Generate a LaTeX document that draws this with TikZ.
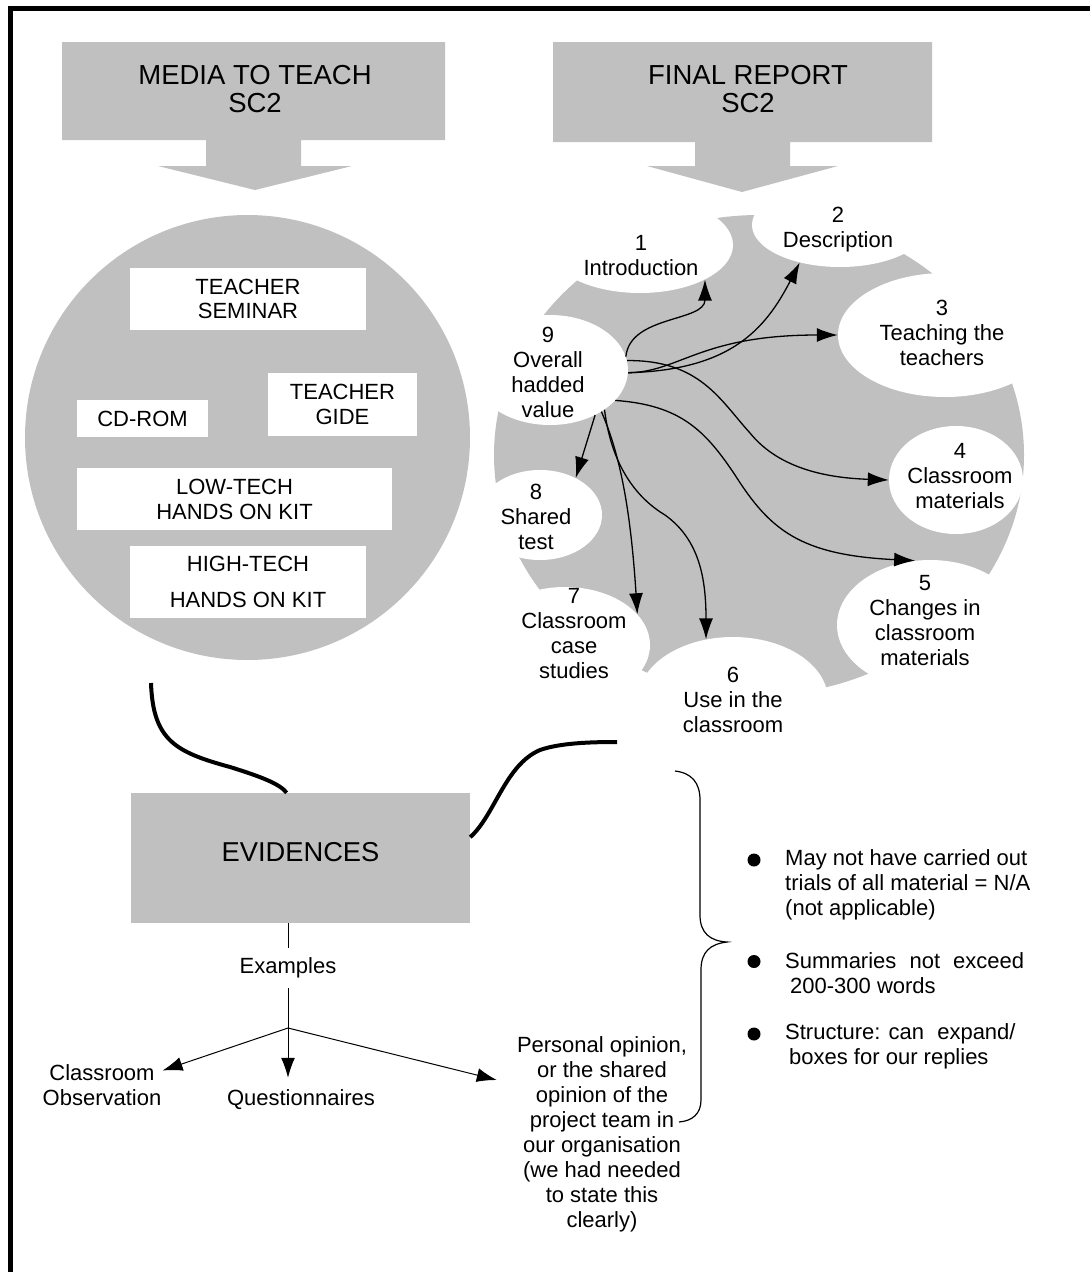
\documentclass[tikz,border=0pt]{standalone}
\usepackage{fontspec}
\setmainfont{Liberation Sans}
\usetikzlibrary{shapes.geometric,arrows.meta}
\definecolor{boxgray}{RGB}{192,192,192}
\begin{document}
\begin{tikzpicture}[x=1pt,y=-1pt,
  txt/.style={font=\fontsize{22}{25}\selectfont, align=center, inner sep=0pt},
  ttl/.style={font=\fontsize{27.5}{28}\selectfont, align=center, inner sep=0pt},
  wbox/.style={fill=white, inner sep=0pt, font=\fontsize{22}{25}\selectfont, align=center},
  bite/.style={ellipse, fill=white, inner sep=0pt},
  arr/.style={-{Latex[length=21pt,width=14pt]}, line width=1.3pt},
  arr2/.style={-{Latex[length=20pt,width=14pt]}, line width=1pt},
  heavy/.style={line width=4pt},
  bullet/.style={circle, fill=black, inner sep=0pt, minimum size=13pt}
]
\useasboundingbox (0,0) rectangle (1090,1272);
% frame
\fill (8,6) rectangle (1090,11);
\fill (8,6) rectangle (13,1272);

% left circle with its boxes
\fill[boxgray] (247.5,437.5) circle[radius=222.5pt];
\node[wbox, minimum width=236pt, minimum height=62pt] (sem) at (248,299) {TEACHER\\[-1pt]SEMINAR};
\node[wbox, minimum width=149pt, minimum height=63pt] (gide) at (342.5,404.5) {TEACHER\\GIDE};
\node[wbox, minimum width=131pt, minimum height=37pt] (cd) at (142.5,418.5) {CD-ROM};
\node[wbox, minimum width=315pt, minimum height=62pt] (low) at (234.5,499) {LOW-TECH\\HANDS ON KIT};
\node[wbox, minimum width=236pt, minimum height=72pt] (high) at (248,582) {HIGH-TECH\\[11pt]HANDS ON KIT};

% right gray disc with white bites
\fill[boxgray] (759,455) ellipse[x radius=265pt, y radius=240pt];
\node[bite, minimum width=186pt, minimum height=96pt] (e1) at (640,245) {};
\node[bite, minimum width=176pt, minimum height=84pt] (e2) at (840,225) {};
\node[bite, minimum width=214pt, minimum height=124pt] (e3) at (945,335) {};
\node[bite, minimum width=134pt, minimum height=108pt] (e4) at (956,480) {};
\node[bite, minimum width=186pt, minimum height=130pt] (e5) at (930,625) {};
\node[bite, minimum width=190pt, minimum height=126pt] (e6) at (733,700) {};
\node[bite, minimum width=170pt, minimum height=116pt] (e7) at (565,645) {};
\node[bite, minimum width=124pt, minimum height=90pt] (e8) at (540,515) {};
\node[bite, minimum width=156pt, minimum height=110pt] (e9) at (550,370) {};

\node[txt] (l1) at (641,255.5) {1\\Introduction};
\node[txt] (l2) at (838,230) {2\\Description};
\node[txt] (l3) at (942,333) {3\\Teaching the\\teachers};
\node[txt] (l4) at (960,476) {4\\Classroom\\materials};
\node[txt] (l5) at (925,620.5) {5\\Changes in\\classroom\\materials};
\node[txt] (l6) at (733,700) {6\\Use in the\\classroom};
\node[txt] (l7) at (574,634) {7\\Classroom\\case\\studies};
\node[txt] (l8) at (536,517) {8\\Shared\\test};
\node[txt] (l9) at (548,372.5) {9\\Overall\\hadded\\value};

% arrows from 9
\draw[arr] (e9.10) .. controls (630,315) and (705,322) .. (e1.-28);
\draw[arr] (e9.-2) .. controls (730,370) and (765,330) .. (e2.223);
\draw[arr] (e9.-2) .. controls (680,372) and (700,335) .. (e3.180);
\draw[arr] (e9.7) .. controls (700,360) and (720,400) .. (750,433) .. controls (780,470) and (830,478) .. (e4.180);
\draw[arr] (e9.-25) .. controls (680,405) and (705,430) .. (735,475) .. controls (770,530) and (800,555) .. (e5.103);
\draw[arr] (e9.-45) -- (e8.46);
\draw[arr] (e9.-39) .. controls (618,450) and (630,500) .. (e7.23);
\draw[arr] (e9.-36) .. controls (612,470) and (640,500) .. (665,515) .. controls (700,540) and (706,580) .. (e6.114);

% top block arrows
\fill[boxgray] (62,42) -- (445,42) -- (445,140) -- (301,140) -- (301,166) -- (352,166) -- (255,190) -- (158,166) -- (206,166) -- (206,140) -- (62,140) -- cycle;
\node[ttl] (mtt) at (255,89) {MEDIA TO TEACH\\SC2};
\fill[boxgray] (553,42) -- (932,42) -- (932,142) -- (790,142) -- (790,166) -- (838,166) -- (742,192) -- (647,166) -- (695,166) -- (695,142) -- (553,142) -- cycle;
\node[ttl] (frp) at (748,89) {FINAL REPORT\\SC2};

% evidences
\coordinate (ca) at (151,683);
\coordinate (cb) at (617,742);
\node[fill=boxgray, minimum width=339pt, minimum height=130pt, inner sep=0pt] (ev) at (300.5,858) {};
\node[ttl, font=\fontsize{27.3}{28}\selectfont] (evt) at (300.5,852) {EVIDENCES};
\draw[heavy] (ca) .. controls (153,740) and (175,752) .. (230,767) .. controls (262,777) and (280,784) .. (ev.102);
\draw[heavy] (ev.7) .. controls (495,815) and (505,765) .. (540,750) .. controls (560,743) and (590,742) .. (cb);

\node[txt, inner sep=10pt] (ex) at (288,968) {Examples};
\draw[line width=1pt] ([xshift=-12.5pt]ev.south) -- (ex.north);
\coordinate (jn) at (288,1028);
\draw[line width=1pt] (ex.south) -- (jn);
\node[txt, inner sep=12pt] (qu) at (301,1100) {Questionnaires};
\node[txt, inner sep=1pt] (co) at (102,1085.5) {Classroom\\Observation};
\node[txt, inner sep=1pt] (po) at (602,1134) {Personal opinion,\\or the shared\\opinion of the\\project team in\\our organisation\\(we had needed\\to state this\\clearly)};
\draw[arr2] (jn) -- (jn |- qu.north);
\draw[arr2] (jn) -- ([yshift=15pt]co.east);
\draw[arr2] (jn) -- ([xshift=-19pt,yshift=54pt]po.west);

% brace
\draw[line width=1.2pt] (675,771) .. controls (692,773) and (700,783) .. (700,800) -- (700,915) .. controls (700,933) and (710,941) .. (727,942) .. controls (710,944) and (701,952) .. (701,970) -- (701,1100) .. controls (701,1114) and (692,1121) .. (679,1122);

% bullets
\node[bullet] (b1) at (754,860) {};
\node[bullet] (b2) at (754,961.5) {};
\node[bullet] (b3) at (754,1034) {};
\node[txt, align=left, anchor=west] (bt1) at (785,885) {May not have carried out\\trials of all material = N/A\\(not applicable)};
\node[txt, align=left, anchor=west] (bt2) at (785,973) {Summaries\hspace{7pt} not\hspace{7pt} exceed\\\hspace{5pt}200-300 words};
\node[txt, align=left, anchor=west] (bt3) at (785,1046.5) {Structure: can\hspace{7pt} expand/\\\hspace{4pt}boxes for our replies};
\end{tikzpicture}
\end{document}
